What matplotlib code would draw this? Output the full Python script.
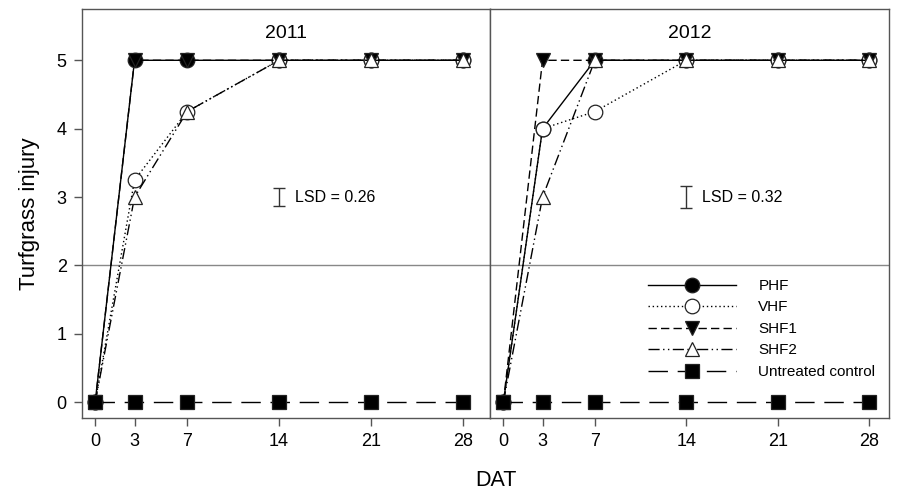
import matplotlib
matplotlib.use("Agg")
import matplotlib.pyplot as plt

plt.rcParams["font.family"] = ["Liberation Sans", "DejaVu Sans"]

days = [0, 3, 7, 14, 21, 28]
treatments = ["PHF", "VHF", "SHF1", "SHF2", "Untreated control"]

# injury ratings
inj_2011 = {
    "PHF": [0, 5, 5, 5, 5, 5],
    "VHF": [0, 3.25, 4.25, 5, 5, 5],
    "SHF1": [0, 5, 5, 5, 5, 5],
    "SHF2": [0, 3.0, 4.25, 5, 5, 5],
    "Untreated control": [0, 0, 0, 0, 0, 0],
}
inj_2012 = {
    "PHF": [0, 4, 5, 5, 5, 5],
    "VHF": [0, 4, 4.25, 5, 5, 5],
    "SHF1": [0, 5, 5, 5, 5, 5],
    "SHF2": [0, 3, 5, 5, 5, 5],
    "Untreated control": [0, 0, 0, 0, 0, 0],
}
years = ["2011", "2012"]
lsd = [0.26, 0.32]

styles = {
    "PHF": dict(ls="-", marker="o", mfc="black", ms=10.5),
    "VHF": dict(ls=(0, (1, 2)), marker="o", mfc="white", ms=10.5),
    "SHF1": dict(ls=(0, (6, 3)), marker="v", mfc="black", ms=10),
    "SHF2": dict(ls=(0, (8, 2.5, 1, 2.5, 1, 2.5)), marker="^", mfc="white", ms=10.5),
    "Untreated control": dict(ls=(0, (14, 7)), marker="s", mfc="black", ms=9.5),
}

grey = "#555555"
fig = plt.figure(figsize=(8.98, 4.94), dpi=100)
ax1 = fig.add_axes([82 / 898, 1 - 418 / 494, 408 / 898, 409 / 494])
ax2 = fig.add_axes([490 / 898, 1 - 418 / 494, 399 / 898, 409 / 494])

for ax, year, data, l in zip([ax1, ax2], years, [inj_2011, inj_2012], lsd):
    ax.axhline(2, color="#888888", lw=1, zorder=0)
    for t in treatments:
        st = styles[t]
        ax.plot(days, data[t], color="black", lw=1, ls=st["ls"], marker=st["marker"],
                ms=st["ms"], mfc=st["mfc"], mec="#222222", mew=0.9, label=t,
                clip_on=False)
    # LSD bar
    ax.errorbar([14], [3], yerr=[[l / 2], [l / 2]], fmt="none", ecolor="#333333",
                elinewidth=1, capsize=4, capthick=1)
    ax.text(15.2, 3, f"LSD = {l:.2f}", va="center", ha="left", fontsize=11.5)
    ax.text(0.5, 0.96, year, transform=ax.transAxes, ha="center", va="top", fontsize=14)
    ax.set_ylim(-0.23, 5.75)
    ax.set_xticks(days)
    ax.set_yticks(range(6))
    ax.tick_params(direction="out", length=6, color=grey, labelsize=13, width=1, pad=5)
    for s in ax.spines.values():
        s.set_color(grey)
        s.set_linewidth(1)

ax1.set_xlim(-1, 30.05)
ax2.set_xlim(-1.02, 29.5)
ax2.tick_params(axis="y", left=False, labelleft=False)
ax1.set_ylabel("Turfgrass injury", fontsize=16, labelpad=12)
fig.text(496 / 898, 1 - 480 / 494, "DAT", ha="center", va="center", fontsize=15.5)

ax2.legend(loc="upper left", bbox_to_anchor=(0.395, 0.34), frameon=False,
           fontsize=11, handlelength=5.8, handletextpad=1.45, labelspacing=0.49,
           borderpad=0, borderaxespad=0)

fig.savefig("out.png", dpi=100)
